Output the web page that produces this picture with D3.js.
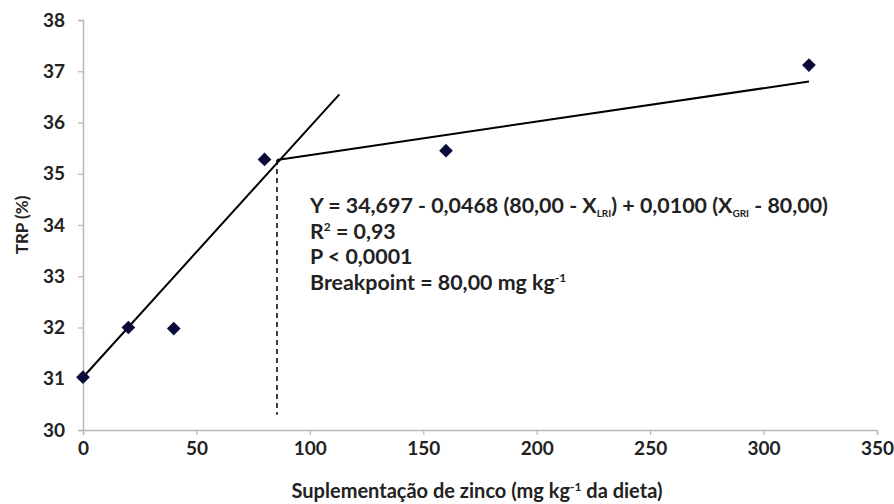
<!DOCTYPE html>
<html>
<head>
<meta charset="utf-8">
<script src="https://cdn.jsdelivr.net/npm/d3@7"></script>
<style>
  body { margin: 0; background: #fff; }
  text { font-family: Lato, "Open Sans", sans-serif; font-weight: 700; fill: #222; }
</style>
</head>
<body>
<svg id="chart"></svg>
<script>
// observed points
var zinco = [0, 20, 40, 80, 160, 320]
var trp = [31.03, 32.0, 31.98, 35.28, 35.45, 37.12]

// broken-line fit, as drawn
var leftLineX = [0, 113]
var leftLineY = [31.03, 36.55]
var rightLineX = [85.5, 320]
var rightLineY = [35.27, 36.8]
var breakX = 85.5
var breakY = [35.27, 30.3]

var xTicks = [0, 50, 100, 150, 200, 250, 300, 350]
var yTicks = [30, 31, 32, 33, 34, 35, 36, 37, 38]

var screen = {width: 894, height: 504}
var margin = {left: 83, right: 17, top: 20, bottom: 74}

var svg = d3.select("#chart")
  .attr("width", screen.width)
  .attr("height", screen.height)

var x = d3.scaleLinear().domain([0, 350]).range([margin.left, screen.width - margin.right])
var y = d3.scaleLinear().domain([30, 38]).range([screen.height - margin.bottom, margin.top])

// axes
var xAxis = svg.append("g")
  .attr("transform", "translate(0," + y(30) + ")")
  .call(d3.axisBottom(x).tickValues(xTicks).tickSize(5).tickPadding(7))
var yAxis = svg.append("g")
  .attr("transform", "translate(" + x(0) + ",0)")
  .call(d3.axisLeft(y).tickValues(yTicks).tickSize(5).tickPadding(13))

;[xAxis, yAxis].forEach(function(ax){
  ax.select(".domain").attr("stroke", "#b8b8b8").attr("stroke-width", 1.5)
  ax.selectAll(".tick line").attr("stroke", "#b8b8b8").attr("stroke-width", 1.2)
  ax.selectAll(".tick text")
    .style("font-family", "Lato, sans-serif")
    .style("font-weight", 700)
    .style("font-size", "19px")
    .attr("fill", "#222")
})

// fitted lines
var line = d3.line().x(function(d){ return x(d[0]) }).y(function(d){ return y(d[1]) })
svg.append("path")
  .attr("d", line(d3.zip(leftLineX, leftLineY)))
  .attr("stroke", "#000").attr("stroke-width", 2).attr("fill", "none")
svg.append("path")
  .attr("d", line(d3.zip(rightLineX, rightLineY)))
  .attr("stroke", "#000").attr("stroke-width", 2).attr("fill", "none")

svg.append("line")
  .attr("x1", x(breakX)).attr("x2", x(breakX))
  .attr("y1", y(breakY[0])).attr("y2", y(breakY[1]))
  .attr("stroke", "#000").attr("stroke-width", 1.5)
  .attr("stroke-dasharray", "5,4")

// points
svg.append("g").selectAll("path")
  .data(d3.zip(zinco, trp))
  .enter()
  .append("path")
  .attr("transform", function(d){ return "translate(" + x(d[0]) + "," + y(d[1]) + ")" })
  .attr("d", d3.symbol().type(d3.symbolDiamond2).size(120))
  .attr("fill", "#0b0b3b")

// axis titles
svg.append("text")
  .attr("transform", "translate(28," + y(34) + ") rotate(-90)")
  .attr("text-anchor", "middle")
  .style("font-size", "17px")
  .text("TRP (%)")

var xt = svg.append("text")
  .attr("x", 477)
  .attr("y", 498)
  .attr("text-anchor", "middle")
  .style("font-size", "20px")
xt.append("tspan").text("Suplementação de zinco (mg kg")
xt.append("tspan").attr("dy", -7).style("font-size", "12px").text("-1")
xt.append("tspan").attr("dy", 7).text(" da dieta)")

// equation block
var eq = svg.append("g").attr("transform", "translate(310,0)")
var t1 = eq.append("text").attr("y", 213).style("font-size", "21.4px")
t1.append("tspan").text("Y = 34,697 - 0,0468 (80,00 - X")
t1.append("tspan").attr("dy", 4).style("font-size", "10px").text("LRI")
t1.append("tspan").attr("dy", -4).text(") + 0,0100 (X")
t1.append("tspan").attr("dy", 4).style("font-size", "10px").text("GRI")
t1.append("tspan").attr("dy", -4).text(" - 80,00)")

var t2 = eq.append("text").attr("y", 239).style("font-size", "21.4px")
t2.append("tspan").text("R")
t2.append("tspan").attr("dy", -8).style("font-size", "12px").text("2")
t2.append("tspan").attr("dy", 8).text(" = 0,93")

eq.append("text").attr("y", 264).style("font-size", "21.4px").text("P < 0,0001")

var t4 = eq.append("text").attr("y", 290).style("font-size", "21.4px")
t4.append("tspan").text("Breakpoint = 80,00 mg kg")
t4.append("tspan").attr("dy", -8).style("font-size", "12px").text("-1")
</script>
</body>
</html>
